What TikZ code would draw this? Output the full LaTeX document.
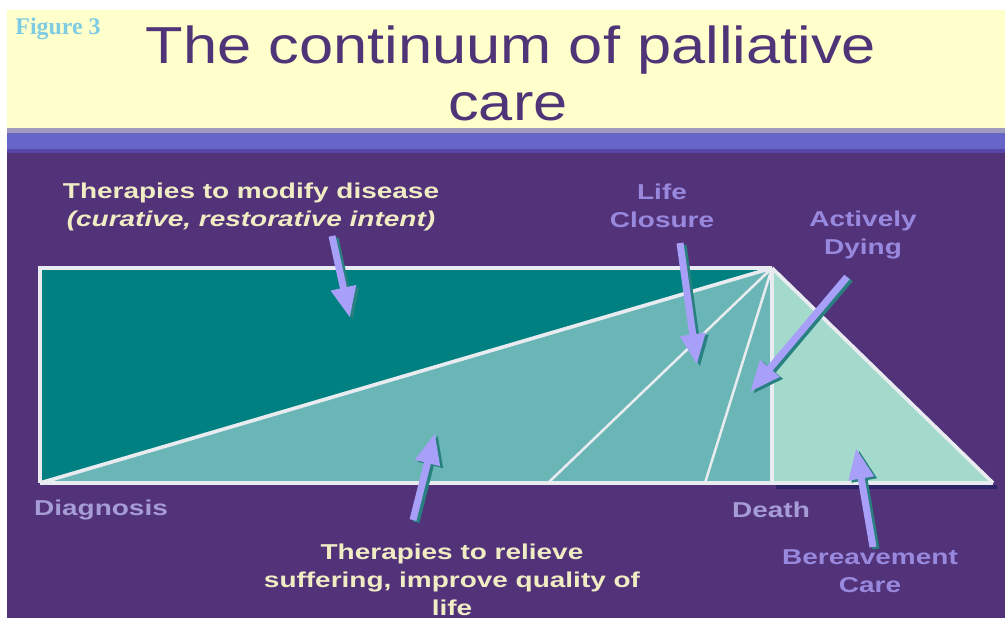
\documentclass[tikz,border=0pt]{standalone}
\usepackage{fontspec}
\setmainfont{Liberation Sans}
\newfontfamily\titlefont[FakeStretch=1.18]{Liberation Sans}
\newfontfamily\labelfont[FakeStretch=1.3]{Liberation Sans}
\newfontfamily\figfont{Liberation Serif}
\usepackage{tikz}
\usetikzlibrary{arrows.meta}

\definecolor{bgpurple}{RGB}{82,51,122}
\definecolor{bandyellow}{RGB}{255,255,204}
\definecolor{bandgrey}{RGB}{160,156,192}
\definecolor{bandblue}{RGB}{102,102,200}
\definecolor{banddark}{RGB}{88,70,168}
\definecolor{titlepurple}{RGB}{80,52,120}
\definecolor{figblue}{RGB}{126,204,228}
\definecolor{darkteal}{RGB}{0,128,128}
\definecolor{midteal}{RGB}{106,181,181}
\definecolor{mint}{RGB}{163,218,204}
\definecolor{shadownavy}{RGB}{43,36,104}
\definecolor{edgewhite}{RGB}{232,236,240}
\definecolor{arrowlav}{RGB}{168,160,248}
\definecolor{arrowteal}{RGB}{40,128,128}
\definecolor{creamtext}{RGB}{240,236,196}
\definecolor{lavtext}{RGB}{152,136,222}
\definecolor{greylavtext}{RGB}{166,156,214}

\tikzset{
  edgeline/.style={draw=edgewhite, line width=2.6pt},
  fanline/.style={draw=edgewhite, line width=1.8pt},
  pointer/.style={draw=arrowlav, line width=5pt, -{Triangle[length=22pt,width=17pt]}},
  pointershade/.style={pointer, draw=arrowteal},
  bodytext/.style={font=\labelfont\bfseries\fontsize{15.3pt}{20pt}\selectfont, align=center},
  cream/.style={bodytext, text=creamtext},
  lavender/.style={bodytext, text=lavtext},
  greylav/.style={bodytext, text=greylavtext},
  heading/.style={font=\titlefont\fontsize{37pt}{40pt}\selectfont, text=titlepurple},
  figlabel/.style={font=\figfont\bfseries\fontsize{17pt}{20pt}\selectfont, text=figblue}
}

\begin{document}
\begin{tikzpicture}[x=0.025cm, y=-0.025cm]
  \useasboundingbox (0,0) rectangle (1005,621);
  \fill[white] (0,0) rectangle (1005,621);
  \fill[bandyellow] (7,10) rectangle (1005,128);
  \fill[bandgrey] (7,128) rectangle (1005,133);
  \fill[bandblue] (7,133) rectangle (1005,149);
  \fill[banddark] (7,149) rectangle (1005,153);
  \fill[bgpurple] (7,153) rectangle (1005,618);

  \node[figlabel, anchor=base] (fig) at (58,34) {Figure 3};
  \node[heading, anchor=base] (title) at (511,63) {The continuum of palliative};
  \node[heading, anchor=base] (title care) at (508,120) {care};

  \coordinate (diag) at (40,483);
  \coordinate (top left) at (40,268);
  \coordinate (apex) at (772,268);
  \coordinate (death foot) at (772,483);
  \coordinate (tail end) at (993,483);

  \fill[darkteal] (top left) rectangle (death foot);
  \fill[midteal] (diag) -- (apex) -- (death foot) -- cycle;
  \fill[mint] (apex) -- (death foot) -- (tail end) -- cycle;
  \fill[shadownavy] (776,485) rectangle (997,489);

  \draw[edgeline] (diag) -- (top left) -- (apex);
  \draw[edgeline] (diag) -- (tail end);
  \draw[edgeline] (diag) -- (apex);
  \draw[edgeline] (apex) -- (death foot);
  \draw[edgeline] (apex) -- (tail end);
  \foreach \x in {548, 705}
    \draw[fanline] (apex) -- (\x,483);

  \node[cream] (modify) at (251,207) {Therapies to modify disease\\{\itshape (curative, restorative intent)}};
  \node[lavender] (closure) at (662,206) {Life\\Closure};
  \node[lavender] (dying) at (863,235) {Actively\\Dying};
  \node[greylav] (diagnosis) at (101,510) {Diagnosis};
  \node[greylav] (death) at (771,510) {Death};
  \node[cream] (relief) at (452,580) {Therapies to relieve\\suffering, improve quality of\\life};
  \node[lavender] (grief) at (870,571) {Bereavement\\Care};

  \coordinate (cure from) at (332,236);
  \coordinate (cure to) at (350,318);
  \coordinate (closure from) at (680,243);
  \coordinate (closure to) at (697,365);
  \coordinate (dying from) at (847,277);
  \coordinate (dying to) at (750,392);
  \coordinate (relief from) at (413,520);
  \coordinate (relief to) at (435,433);
  \coordinate (grief from) at (873,547);
  \coordinate (grief to) at (856,448);

  \foreach \a/\b in {cure from/cure to, closure from/closure to, dying from/dying to, relief from/relief to, grief from/grief to}{
    \draw[pointershade] ([shift={(3,2)}]\a) -- ([shift={(3,2)}]\b);
    \draw[pointer] (\a) -- (\b);
  }
\end{tikzpicture}
\end{document}
